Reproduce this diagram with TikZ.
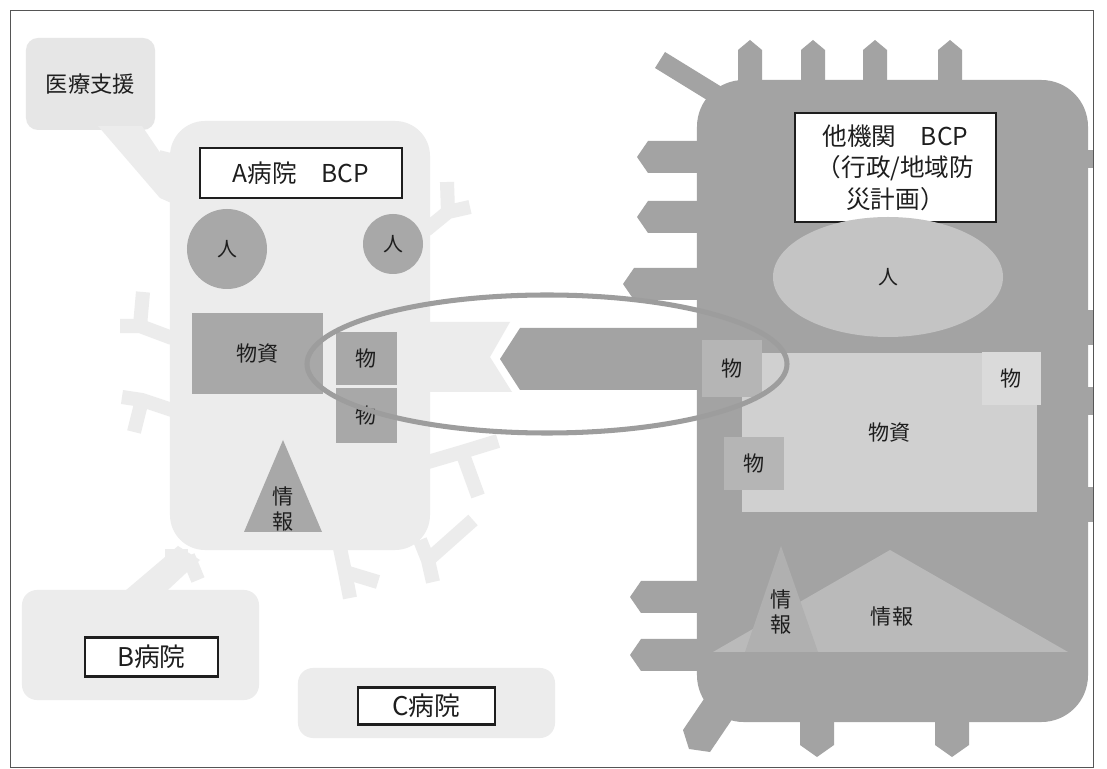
\documentclass[tikz,border=0pt]{standalone}
\usepackage{fontspec}
\setmainfont{Noto Sans CJK JP}
\usepackage{tikz}
\usetikzlibrary{shapes.geometric}
\definecolor{bcpPale}{HTML}{ECECEC}
\definecolor{bcpAid}{HTML}{E6E6E6}
\definecolor{bcpBody}{HTML}{A3A3A3}
\definecolor{bcpMid}{HTML}{A8A8A8}
\definecolor{bcpRing}{HTML}{9D9D9D}
\definecolor{bcpSoft}{HTML}{C4C4C4}
\definecolor{bcpGoods}{HTML}{D0D0D0}
\definecolor{bcpGoodsDim}{HTML}{B5B5B5}
\definecolor{bcpGoodsPale}{HTML}{DADADA}
\definecolor{bcpInfo}{HTML}{BABABA}
\definecolor{bcpInfoDim}{HTML}{B0B0B0}
\definecolor{bcpInk}{HTML}{1E1E1E}
\definecolor{bcpFrame}{HTML}{555555}
\tikzset{
  paleBlock/.style={
    rectangle,
    rounded corners=0.45cm,
    fill=bcpPale,
    inner sep=0pt
  },
  titleBox/.style={
    rectangle,
    draw=bcpInk,
    fill=white,
    line width=2.4pt,
    inner sep=0pt,
    align=center,
    text=bcpInk,
    font=\fontsize{21}{27}\selectfont
  },
  personDisc/.style={
    circle,
    fill=bcpMid,
    inner sep=0pt,
    text=bcpInk,
    font=\fontsize{17}{20}\selectfont
  },
  goodsBox/.style={
    rectangle,
    fill=bcpMid,
    inner sep=0pt,
    text=bcpInk,
    font=\fontsize{18}{21}\selectfont
  },
  infoText/.style={
    inner sep=0pt,
    align=center,
    text=bcpInk,
    font=\fontsize{18}{21}\selectfont
  },
  sprig/.style={
    draw=bcpPale,
    line width=12pt,
    line join=miter
  },
  limb/.style={
    fill=bcpBody
  },
  ringLine/.style={
    draw=bcpRing,
    line width=4.3pt
  }
}
\begin{document}
\begin{tikzpicture}[x=0.03cm,y=-0.03cm]
  \useasboundingbox (0,0) rectangle (1107,769);
  \fill[white] (0,0) rectangle (1107,769);
  \node[paleBlock,fill=bcpAid,rounded corners=0.36cm,minimum width=3.87cm,minimum height=2.76cm,font=\fontsize{19}{22}\selectfont,text=bcpInk] (aid) at (90.5,84) {医療支援};
  \fill[bcpPale] (98,126) -- (142,126) -- (180,182) -- (178,206) -- (160,198) -- cycle;
  \draw[sprig] (160,180) -- (167,152);
  \node[paleBlock,rounded corners=1.05cm,minimum width=7.8cm,minimum height=12.87cm] (hospA) at (300,335.5) {};
  \draw[sprig] (172,338) -- (140,326) -- (120,326);
  \draw[sprig] (140,326) -- (143,292);
  \draw[sprig] (172,410) -- (142,400) -- (122,397);
  \draw[sprig] (142,400) -- (134,432);
  \draw[sprig] (426,230) -- (448,212) -- (470,207);
  \draw[sprig] (448,212) -- (447,182);
  \draw[sprig] (428,462) -- (462,452) -- (498,441);
  \draw[sprig] (462,452) -- (478,496);
  \draw[sprig] (420,540) -- (428,560) -- (433,582);
  \draw[sprig] (428,560) -- (473,520);
  \draw[sprig] (340,548) -- (345,572) -- (350,598);
  \draw[sprig] (345,572) -- (378,582);
  \fill[bcpPale] (112,602) -- (155,602) -- (200,560) -- (178,546) -- cycle;
  \draw[sprig] (188,556) -- (198,580);
  \draw[sprig] (188,556) -- (165,556);
  \fill[bcpPale] (428,322) -- (510,322) -- (490,357) -- (512,392) -- (428,392) -- cycle;
  \node[paleBlock,minimum width=7.11cm,minimum height=3.3cm] (hospB) at (140.5,645) {};
  \node[titleBox,line width=2.2pt,font=\fontsize{22}{26}\selectfont,minimum width=3.99cm,minimum height=1.17cm] (titleB) at (151.5,657) {B病院};
  \node[paleBlock,minimum width=7.71cm,minimum height=2.1cm] (hospC) at (426.5,703) {};
  \node[titleBox,line width=2.2pt,font=\fontsize{22}{26}\selectfont,minimum width=4.11cm,minimum height=1.11cm] (titleC) at (426.5,706) {C病院};
  \node[titleBox,minimum width=6.06cm,minimum height=1.5cm] (titleA) at (301,173) {A病院　BCP};
  \node[personDisc,minimum size=2.4cm] (staffA) at (227,249) {人};
  \node[personDisc,minimum size=1.8cm] (staffA2) at (393,244) {人};
  \node[goodsBox,minimum width=3.93cm,minimum height=2.43cm] (stockA) at (257.5,353.5) {物資};
  \node[goodsBox,minimum width=1.83cm,minimum height=1.59cm] (itemA) at (366.5,358.5) {物};
  \node[goodsBox,minimum width=1.83cm,minimum height=1.65cm] (itemA2) at (366.5,415.5) {物};
  \fill[bcpMid] (283,440) -- (322,532) -- (244,532) -- cycle;
  \node[infoText] (infoA) at (283,509) {情\\報};
  \fill[limb] (665,52) -- (730,92) -- (720,108) -- (655,68) -- cycle;
  \fill[limb] (738,82) -- (738,50) -- (750,40) -- (762,50) -- (762,82) -- cycle;
  \fill[limb] (801,82) -- (801,50) -- (813,40) -- (825,50) -- (825,82) -- cycle;
  \fill[limb] (863,82) -- (863,50) -- (875,40) -- (887,50) -- (887,82) -- cycle;
  \fill[limb] (938,82) -- (938,50) -- (950,40) -- (962,50) -- (962,82) -- cycle;
  \fill[limb] (699,141) -- (648,141) -- (637,157) -- (648,173) -- (699,173) -- cycle;
  \fill[limb] (699,201) -- (648,201) -- (637,217) -- (648,233) -- (699,233) -- cycle;
  \fill[limb] (699,268) -- (634,268) -- (623,284) -- (634,300) -- (699,300) -- cycle;
  \fill[limb] (699,581) -- (641,581) -- (630,597) -- (641,613) -- (699,613) -- cycle;
  \fill[limb] (699,639) -- (641,639) -- (630,655) -- (641,671) -- (699,671) -- cycle;
  \fill[limb] (800,720) -- (800,745) -- (817,757) -- (834,745) -- (834,720) -- cycle;
  \fill[limb] (935,720) -- (935,745) -- (952,757) -- (969,745) -- (969,720) -- cycle;
  \fill[limb] (706,696) -- (733,718) -- (710,752) -- (689,749) -- (683,730) -- cycle;
  \fill[limb] (1080,150) rectangle (1093,168);
  \fill[limb] (1080,310) rectangle (1093,345);
  \fill[limb] (1080,387) rectangle (1093,415);
  \fill[limb] (1080,487) rectangle (1093,522);
  \fill[limb] (500,359) -- (520,328) -- (699,328) -- (699,390) -- (520,390) -- cycle;
  \node[rectangle,rounded corners=1.4cm,fill=bcpBody,inner sep=0pt,minimum width=11.73cm,minimum height=19.26cm] (agency) at (892.5,401) {};
  \node[titleBox,minimum width=6.03cm,minimum height=3.27cm] (titleD) at (895.5,167.5) {他機関　BCP\\（行政/地域防\\災計画）};
  \node[ellipse,fill=bcpSoft,inner sep=0pt,minimum width=6.9cm,minimum height=3.6cm,text=bcpInk,font=\fontsize{17}{20}\selectfont] (staffD) at (888,277) {人};
  \node[goodsBox,fill=bcpGoods,minimum width=8.85cm,minimum height=4.77cm] (stockD) at (889.5,432.5) {物資};
  \node[goodsBox,fill=bcpGoodsDim,minimum width=1.8cm,minimum height=1.71cm] (itemD) at (732,368.5) {物};
  \node[goodsBox,fill=bcpGoodsPale,minimum width=1.77cm,minimum height=1.59cm] (itemD2) at (1011.5,378.5) {物};
  \node[goodsBox,fill=bcpGoodsDim,minimum width=1.8cm,minimum height=1.59cm] (itemD3) at (754,463.5) {物};
  \fill[bcpInfo] (890,550) -- (1068,652) -- (713,652) -- cycle;
  \fill[bcpInfoDim] (781,546) -- (818,652) -- (745,652) -- cycle;
  \node[infoText] (infoD) at (892,617) {情報};
  \node[infoText] (infoD2) at (781,612) {情\\報};
  \draw[ringLine] (547,364) ellipse [x radius=7.2cm,y radius=2.07cm];
  \draw[bcpFrame,line width=0.8pt] (10,10) rectangle (1093,767);
\end{tikzpicture}
\end{document}
